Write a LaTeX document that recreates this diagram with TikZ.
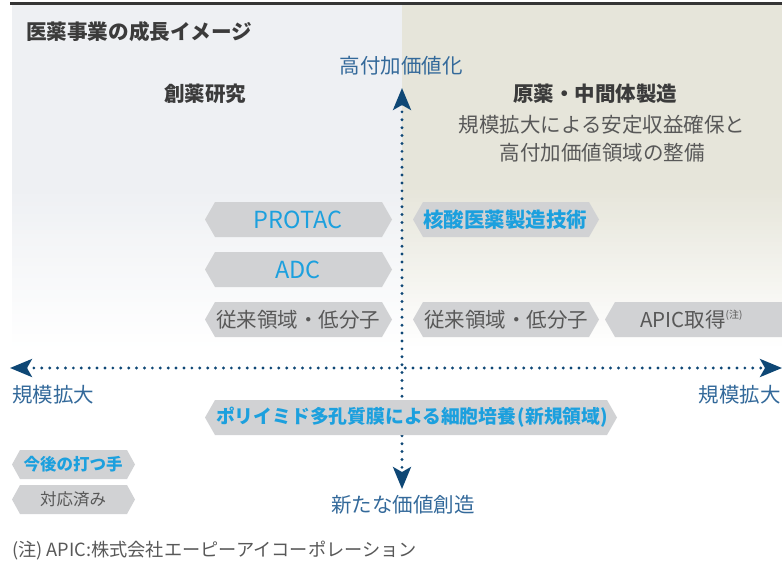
\documentclass[tikz,border=0pt]{standalone}
\usepackage{fontspec}
\setmainfont{Noto Sans CJK JP}
\usetikzlibrary{arrows.meta}
\definecolor{navy}{HTML}{0E4775}
\definecolor{axlabel}{HTML}{33699A}
\definecolor{cyantext}{HTML}{1CA0DE}
\definecolor{boxgray}{HTML}{D1D2D4}
\definecolor{graytext}{HTML}{585858}
\definecolor{darktext}{HTML}{3B3B3B}
\definecolor{leftbg}{HTML}{EEF0F3}
\definecolor{rightbg}{HTML}{E6E5DA}
\newcommand{\hexfill}[5]{% x1, x2, ymid, half height, inset
  \fill[boxgray] (#1,#3) -- ++(#5,-#4) -- (#2-#5,#3-#4) -- (#2,#3) -- (#2-#5,#3+#4) -- (#1+#5,#3+#4) -- cycle;}
\newcommand{\fs}[1]{\fontsize{#1}{#1}\selectfont}
\tikzset{
  axtip/.tip={Stealth[length=22pt, width=18pt, inset=5pt]},
  axisline/.style={navy, line width=3.2pt, dash pattern=on 0pt off 7.9pt, line cap=round},
  axlab/.style={text=axlabel, inner sep=0pt, font=\fs{20.5}},
  head/.style={text=darktext, inner sep=0pt, font=\fs{20.5}\bfseries},
  sub/.style={text=graytext, inner sep=0pt, font=\fs{20.5}},
  newtxt/.style={text=cyantext, inner sep=0pt, font=\fs{20.5}\bfseries},
  latintxt/.style={text=cyantext, inner sep=0pt, font=\fs{23.5}},
  oldtxt/.style={text=graytext, inner sep=0pt, font=\fs{20.5}},
}
\begin{document}
\begin{tikzpicture}[x=1pt,y=-1pt]
\useasboundingbox (0,0) rectangle (782,562);
% panels: solid top, stepped fade to white
\fill[leftbg] (12,5) rectangle (402,190.5);
\fill[rightbg] (402,5) rectangle (782,190.5);
\foreach \i in {0,...,39} {
  \pgfmathsetmacro{\pc}{100-2.5*(\i+1)}
  \pgfmathsetmacro{\ya}{190+4*\i}
  \fill[leftbg!\pc!white] (12,\ya) rectangle (402,\ya+4.5);
  \fill[rightbg!\pc!white] (402,\ya) rectangle (782,\ya+4.5);
}
\draw[line width=3pt, color=darktext!90!black] (10,3.2) -- (782,3.2);

% axes
\coordinate (vtop) at (402,88);
\coordinate (vbot) at (402,489);
\coordinate (hl) at (10,368);
\coordinate (hr) at (782,368);
\draw[axisline, axtip-axtip] (vtop) -- (vbot);
\draw[axisline, axtip-axtip] (hl) -- (hr);

% boxes
\hexfill{205}{392}{219.5}{17.5}{10}
\hexfill{413}{599}{219.5}{17.5}{10}
\hexfill{205}{392}{269.5}{17.5}{10}
\hexfill{205}{392}{319.5}{17.5}{10}
\hexfill{413}{599}{319.5}{17.5}{10}
\begin{scope}
\clip (0,0) rectangle (782,562);
\hexfill{605}{800}{319.5}{17.5}{10}
\end{scope}
\hexfill{12}{135}{464.5}{14.5}{8}
\hexfill{12}{135}{499.5}{14.5}{8}

% texts
\node[anchor=west, text=darktext, inner sep=0pt, font=\fs{20.6}\bfseries] (title) at (26,32) {医薬事業の成長イメージ};
\node[axlab] (hv) at (401,66) {高付加価値化};
\node[head] (sou) at (205,94) {創薬研究};
\node[head] (gen) at (595,94) {原薬・中間体製造};
\node[sub] (sub1) at (602,125) {規模拡大による安定収益確保と};
\node[sub] (sub2) at (602,153) {高付加価値領域の整備};

\node[latintxt] (protac) at (298,219.5) {PROTAC};
\node[newtxt] (kakusan) at (505,219.5) {核酸医薬製造技術};
\node[latintxt] (adc) at (298,269.5) {ADC};
\node[oldtxt] (jl) at (298,319.5) {従来領域・低分子};
\node[oldtxt] (jr) at (506,319.5) {従来領域・低分子};
\node[oldtxt, anchor=west] (apic) at (640,319.5) {APIC取得\raisebox{0.45em}{\fs{10}(注)}};

\node[axlab, anchor=west] (kl) at (12,395) {規模拡大};
\node[axlab, anchor=east] (kr) at (781,395) {規模拡大};
\node[axlab] (nv) at (403,505) {新たな価値創造};

\node[newtxt, font=\fs{16.5}\bfseries] (lg1) at (73,464.5) {今後の打つ手};
\node[oldtxt, font=\fs{16.5}] (lg2) at (73,499.5) {対応済み};

\node[anchor=west, text=graytext, inner sep=0pt, font=\fs{18.2}] (note) at (12,551) {(注) APIC:株式会社エーピーアイコーポレーション};

\hexfill{205}{617}{417.5}{17.5}{10}
\node[newtxt, font=\fs{18.8}\bfseries] (poly) at (412,417.5) {ポリイミド多孔質膜による細胞培養\hspace{1.5pt}(新規領域)};
\end{tikzpicture}
\end{document}
